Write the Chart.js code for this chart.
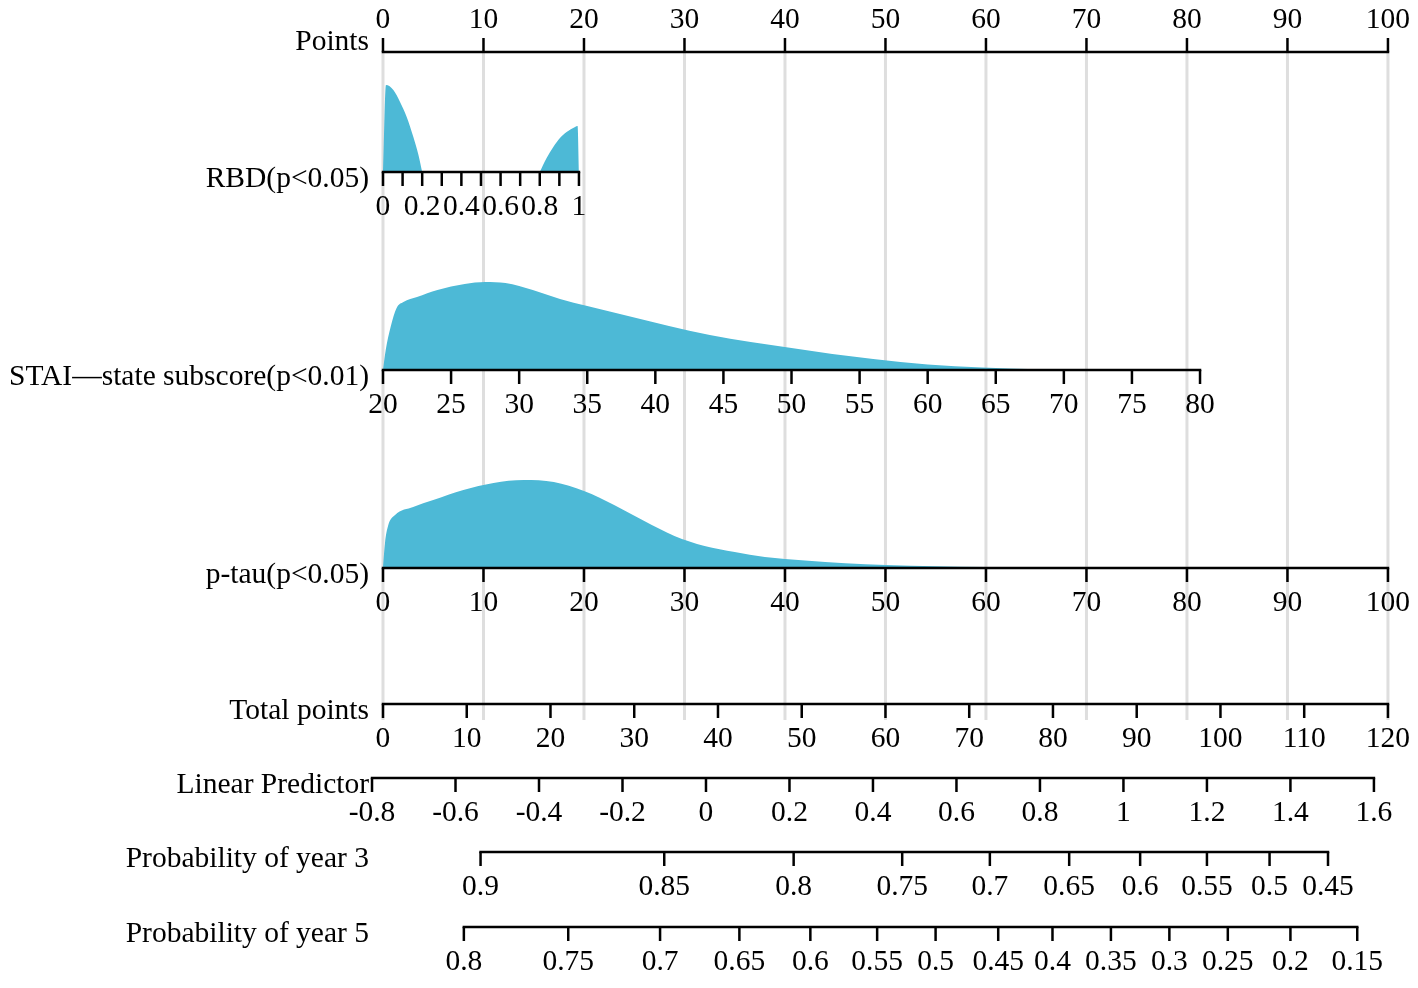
<!DOCTYPE html>
<html>
<head>
<meta charset="utf-8">
<title>Nomogram</title>
<script src="https://cdn.jsdelivr.net/npm/chart.js@4.4.1/dist/chart.umd.min.js"></script>
<style>
  html, body { margin: 0; padding: 0; background: #ffffff; }
  canvas { display: block; }
</style>
</head>
<body>
<canvas id="nomogram" width="1418" height="988"></canvas>
<script>
// tick values for each axis
const pointsTicks = [0, 10, 20, 30, 40, 50, 60, 70, 80, 90, 100];
const rbdTicks = [0, 0.1, 0.2, 0.3, 0.4, 0.5, 0.6, 0.7, 0.8, 0.9, 1];
const rbdLabels = [0, 0.2, 0.4, 0.6, 0.8, 1];
const staiTicks = [20, 25, 30, 35, 40, 45, 50, 55, 60, 65, 70, 75, 80];
const ptauTicks = [0, 10, 20, 30, 40, 50, 60, 70, 80, 90, 100];
const totalTicks = [0, 10, 20, 30, 40, 50, 60, 70, 80, 90, 100, 110, 120];
const lpTicks = [-0.8, -0.6, -0.4, -0.2, 0, 0.2, 0.4, 0.6, 0.8, 1, 1.2, 1.4, 1.6];

// probability labels and where they sit on the linear predictor
const prob3Labels = ['0.9', '0.85', '0.8', '0.75', '0.7', '0.65', '0.6', '0.55', '0.5', '0.45'];
const prob3Lp = [-0.54, -0.10, 0.21, 0.47, 0.68, 0.87, 1.04, 1.20, 1.35, 1.49];
const prob5Labels = ['0.8', '0.75', '0.7', '0.65', '0.6', '0.55', '0.5', '0.45', '0.4', '0.35', '0.3', '0.25', '0.2', '0.15'];
const prob5Lp = [-0.58, -0.33, -0.11, 0.08, 0.25, 0.41, 0.55, 0.70, 0.83, 0.97, 1.11, 1.25, 1.40, 1.56];

// density shapes (value, height)
const rbdLowX = [0, 0.015, 0.053, 0.087, 0.121, 0.155, 0.181, 0.2];
const rbdLowH = [0, 87, 82, 70, 55, 35, 17, 0];
const rbdHighX = [0.8, 0.835, 0.869, 0.903, 0.937, 0.98, 0.993, 1.0];
const rbdHighH = [0, 14, 25, 34, 40, 45, 46, 0];
const staiX = [20, 20.2, 20.56, 21.0, 21.5, 22.5, 24, 26, 27.5, 29, 31, 33, 35, 38, 41, 44, 47, 50, 53, 56, 60, 64, 68, 72, 80];
const staiH = [0, 20, 43, 62, 68, 73, 80, 86, 88, 87, 80, 71, 64, 54, 44, 35, 28, 22, 16, 11, 5.5, 2.5, 0.8, 0.2, 0];
const ptauX = [0, 0.2, 0.5, 1.2, 3, 5, 8, 11, 14, 17, 20, 23, 26, 29, 32, 35, 38, 42, 46, 50, 55, 60, 66, 76];
const ptauH = [0, 25, 42, 53, 61, 68, 78, 85, 88, 86, 77, 63, 47, 32, 22, 16, 11, 7.5, 4.8, 3, 1.7, 0.9, 0.4, 0];

// convert each variable to the Points scale
const toPoints = {
    points: v => v,
    rbd: v => v * 19.5,
    stai: v => (v - 20) * 81.3 / 60,
    ptau: v => v,
    total: v => v * 100 / 120,
    lp: v => 32.14 + 41.54 * v
};

const FONT = '29.5px "Liberation Serif", "Times New Roman", serif';
const FILL = '#4DB9D6';

// layout of the rows
const rows = [
    { name: 'Points', y: 52, map: 'points', ticks: pointsTicks, at: pointsTicks, up: true },
    { name: 'RBD(p<0.05)', y: 172, map: 'rbd', ticks: rbdTicks, at: rbdLabels },
    { name: 'STAI\u2014state subscore(p<0.01)', y: 370, map: 'stai', ticks: staiTicks, at: staiTicks },
    { name: 'p-tau(p<0.05)', y: 568, map: 'ptau', ticks: ptauTicks, at: ptauTicks },
    { name: 'Total points', y: 704, map: 'total', ticks: totalTicks, at: totalTicks },
    { name: 'Linear Predictor', y: 778, map: 'lp', ticks: lpTicks, at: lpTicks },
    { name: 'Probability of year 3', y: 852, map: 'lp', ticks: prob3Lp, at: prob3Lp, text: prob3Labels },
    { name: 'Probability of year 5', y: 927, map: 'lp', ticks: prob5Lp, at: prob5Lp, text: prob5Labels }
];

function density (xs, hs, map, base) {
    return {
        data: xs.map((v, i) => ({ x: toPoints[map](v), y: base - hs[i] })),
        fill: { value: base },
        backgroundColor: FILL,
        borderWidth: 0,
        pointRadius: 0,
        cubicInterpolationMode: 'monotone'
    };
}

// grey reference lines and the axes themselves
const nomogramAxes = {
    id: 'nomogramAxes',
    beforeDatasetsDraw (chart) {
        const ctx = chart.ctx;
        const xs = chart.scales.x;
        const ys = chart.scales.y;
        ctx.save();
        ctx.strokeStyle = '#dedede';
        ctx.lineWidth = 3;
        pointsTicks.forEach(function (v) {
            const px = xs.getPixelForValue(v);
            ctx.beginPath();
            ctx.moveTo(px, ys.getPixelForValue(rows[0].y));
            ctx.lineTo(px, ys.getPixelForValue(rows[4].y + 16));
            ctx.stroke();
        });
        ctx.restore();
    },
    afterDatasetsDraw (chart) {
        const ctx = chart.ctx;
        const xs = chart.scales.x;
        const ys = chart.scales.y;
        ctx.save();
        ctx.strokeStyle = '#000000';
        ctx.fillStyle = '#000000';
        ctx.lineWidth = 2.5;
        ctx.font = FONT;
        ctx.textBaseline = 'middle';
        rows.forEach(function (row) {
            const f = toPoints[row.map];
            const py = ys.getPixelForValue(row.y);
            const dir = row.up ? -1 : 1;
            const first = xs.getPixelForValue(f(row.ticks[0]));
            const last = xs.getPixelForValue(f(row.ticks[row.ticks.length - 1]));

            // axis line
            ctx.beginPath();
            ctx.moveTo(first - 1.25, py);
            ctx.lineTo(last + 1.25, py);
            ctx.stroke();

            // tick marks
            row.ticks.forEach(function (v) {
                const px = xs.getPixelForValue(f(v));
                ctx.beginPath();
                ctx.moveTo(px, py);
                ctx.lineTo(px, py + dir * 14);
                ctx.stroke();
            });

            // tick labels
            ctx.textAlign = 'center';
            row.at.forEach(function (v, i) {
                const px = xs.getPixelForValue(f(v));
                const txt = row.text ? row.text[i] : String(v);
                ctx.fillText(txt, px, py + (row.up ? -32 : 35));
            });

            // row name
            ctx.textAlign = 'right';
            ctx.fillText(row.name, 369, py + (row.up ? -10 : 7));
        });
        ctx.restore();
    }
};

const config = {
    type: 'line',
    data: {
        datasets: [
            density(rbdLowX, rbdLowH, 'rbd', rows[1].y),
            density(rbdHighX, rbdHighH, 'rbd', rows[1].y),
            density(staiX, staiH, 'stai', rows[2].y),
            density(ptauX, ptauH, 'ptau', rows[3].y)
        ]
    },
    options: {
        responsive: false,
        animation: false,
        devicePixelRatio: 1,
        layout: { padding: 0 },
        plugins: {
            legend: { display: false },
            tooltip: { enabled: false }
        },
        scales: {
            // x in Points units, y in row units (top to bottom)
            x: { type: 'linear', min: -38.11, max: 102.99, display: false },
            y: { type: 'linear', min: 0, max: 988, reverse: true, display: false }
        }
    },
    plugins: [nomogramAxes]
};

const myChart = new Chart(document.getElementById('nomogram'), config);
</script>
</body>
</html>
